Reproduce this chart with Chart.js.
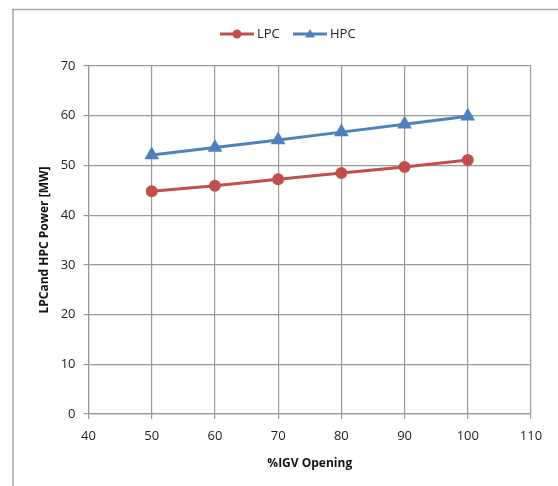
<!DOCTYPE html>
<html>
<head>
<meta charset="utf-8">
<script src="https://cdn.jsdelivr.net/npm/chart.js@4"></script>
<style>
	html, body { margin: 0; padding: 0; background: #fff; }
	#wrap { width: 558px; height: 486px; position: relative; }
</style>
</head>
<body>
<div id="wrap"><canvas id="igvChart"></canvas></div>
<script>
// apertura IGV (%)
const igvOpening = [50, 60, 70, 80, 90, 100];
// potencia de compresores (MW)
const lpcPower = [44.8, 45.9, 47.2, 48.5, 49.7, 51.1];
const hpcPower = [52.1, 53.6, 55.1, 56.7, 58.3, 59.9];
const seriesNames = ["LPC", "HPC"];
const xTitle = "%IGV Opening";
const yTitle = "LPCand HPC Power [MW]";

const FONT = "'Open Sans', 'DejaVu Sans', sans-serif";
const RED = "#C0504D";
const BLUE = "#4F81BD";
const GRID = "#9a9a9a";

// marco exterior y leyenda dibujados a mano (linea + marcador como en Excel)
const excelLegend = {
	id: "excelLegend",
	beforeDraw(chart) {
		const ctx = chart.ctx;
		ctx.save();
		ctx.strokeStyle = "#a6a6a6";
		ctx.lineWidth = 1.5;
		ctx.beginPath();
		ctx.moveTo(13, 486);
		ctx.lineTo(13, 9.5);
		ctx.lineTo(558, 9.5);
		ctx.stroke();
		ctx.restore();
	},
	afterDraw(chart) {
		const ctx = chart.ctx;
		const items = [
			{x: 220, ds: chart.data.datasets[0]},
			{x: 293, ds: chart.data.datasets[1]},
		];
		ctx.save();
		items.forEach((it) => {
			const y = 34;
			ctx.strokeStyle = it.ds.borderColor;
			ctx.lineWidth = 3;
			ctx.beginPath();
			ctx.moveTo(it.x, y);
			ctx.lineTo(it.x + 34, y);
			ctx.stroke();
			ctx.fillStyle = it.ds.borderColor;
			const cx = it.x + 17;
			ctx.beginPath();
			if (it.ds.pointStyle === "triangle") {
				ctx.moveTo(cx, y - 5);
				ctx.lineTo(cx + 5, y + 3.5);
				ctx.lineTo(cx - 5, y + 3.5);
			} else {
				ctx.arc(cx, y, 4.5, 0, Math.PI * 2);
			}
			ctx.closePath();
			ctx.fill();
			ctx.fillStyle = "#222";
			ctx.font = "13px " + FONT;
			ctx.textBaseline = "middle";
			ctx.fillText(it.ds.label, it.x + 37, y);
		});
		ctx.restore();
	},
};

const canvas = document.getElementById("igvChart").getContext("2d");
const data = {
	labels: igvOpening,
	datasets: [
		{
			label: seriesNames[0],
			data: igvOpening.map((x, i) => ({x: x, y: lpcPower[i]})),
			borderColor: RED,
			backgroundColor: RED,
			borderWidth: 3,
			pointStyle: "circle",
			pointRadius: 4.5,
			tension: 0,
		},
		{
			label: seriesNames[1],
			data: igvOpening.map((x, i) => ({x: x, y: hpcPower[i]})),
			borderColor: BLUE,
			backgroundColor: BLUE,
			borderWidth: 3,
			pointStyle: "triangle",
			pointRadius: 5.5,
			tension: 0,
		},
	],
};

const config = {
	type: "line",
	data: data,
	options: {
		responsive: true,
		maintainAspectRatio: false,
		animation: false,
		layout: {
			padding: {top: 66, left: 0, right: 27, bottom: 0},
		},
		scales: {
			x: {
				type: "linear",
				min: 40,
				max: 110,
				ticks: {stepSize: 10, color: "#222", font: {family: FONT, size: 13}, padding: 9},
				grid: {color: GRID, lineWidth: 1.2, tickLength: 5},
				border: {color: GRID, width: 1.2},
				title: {display: true, text: xTitle, color: "#111", font: {family: FONT, size: 12, weight: "bold"}, padding: {top: 4, bottom: 15}},
				afterFit: (scale) => { scale.height = 72; },
			},
			y: {
				min: 0,
				max: 70,
				ticks: {stepSize: 10, color: "#222", font: {family: FONT, size: 13}, padding: 8},
				grid: {color: GRID, lineWidth: 1.2, tickLength: 5},
				border: {color: GRID, width: 1.2},
				title: {display: true, text: yTitle, color: "#111", font: {family: FONT, size: 12, weight: "bold"}, padding: {top: 37, bottom: 4}},
				afterFit: (scale) => { scale.width = 88.5; },
			},
		},
		plugins: {
			legend: {display: false},
			tooltip: {enabled: false},
		},
	},
	plugins: [excelLegend],
};
new Chart(canvas, config);
</script>
</body>
</html>
